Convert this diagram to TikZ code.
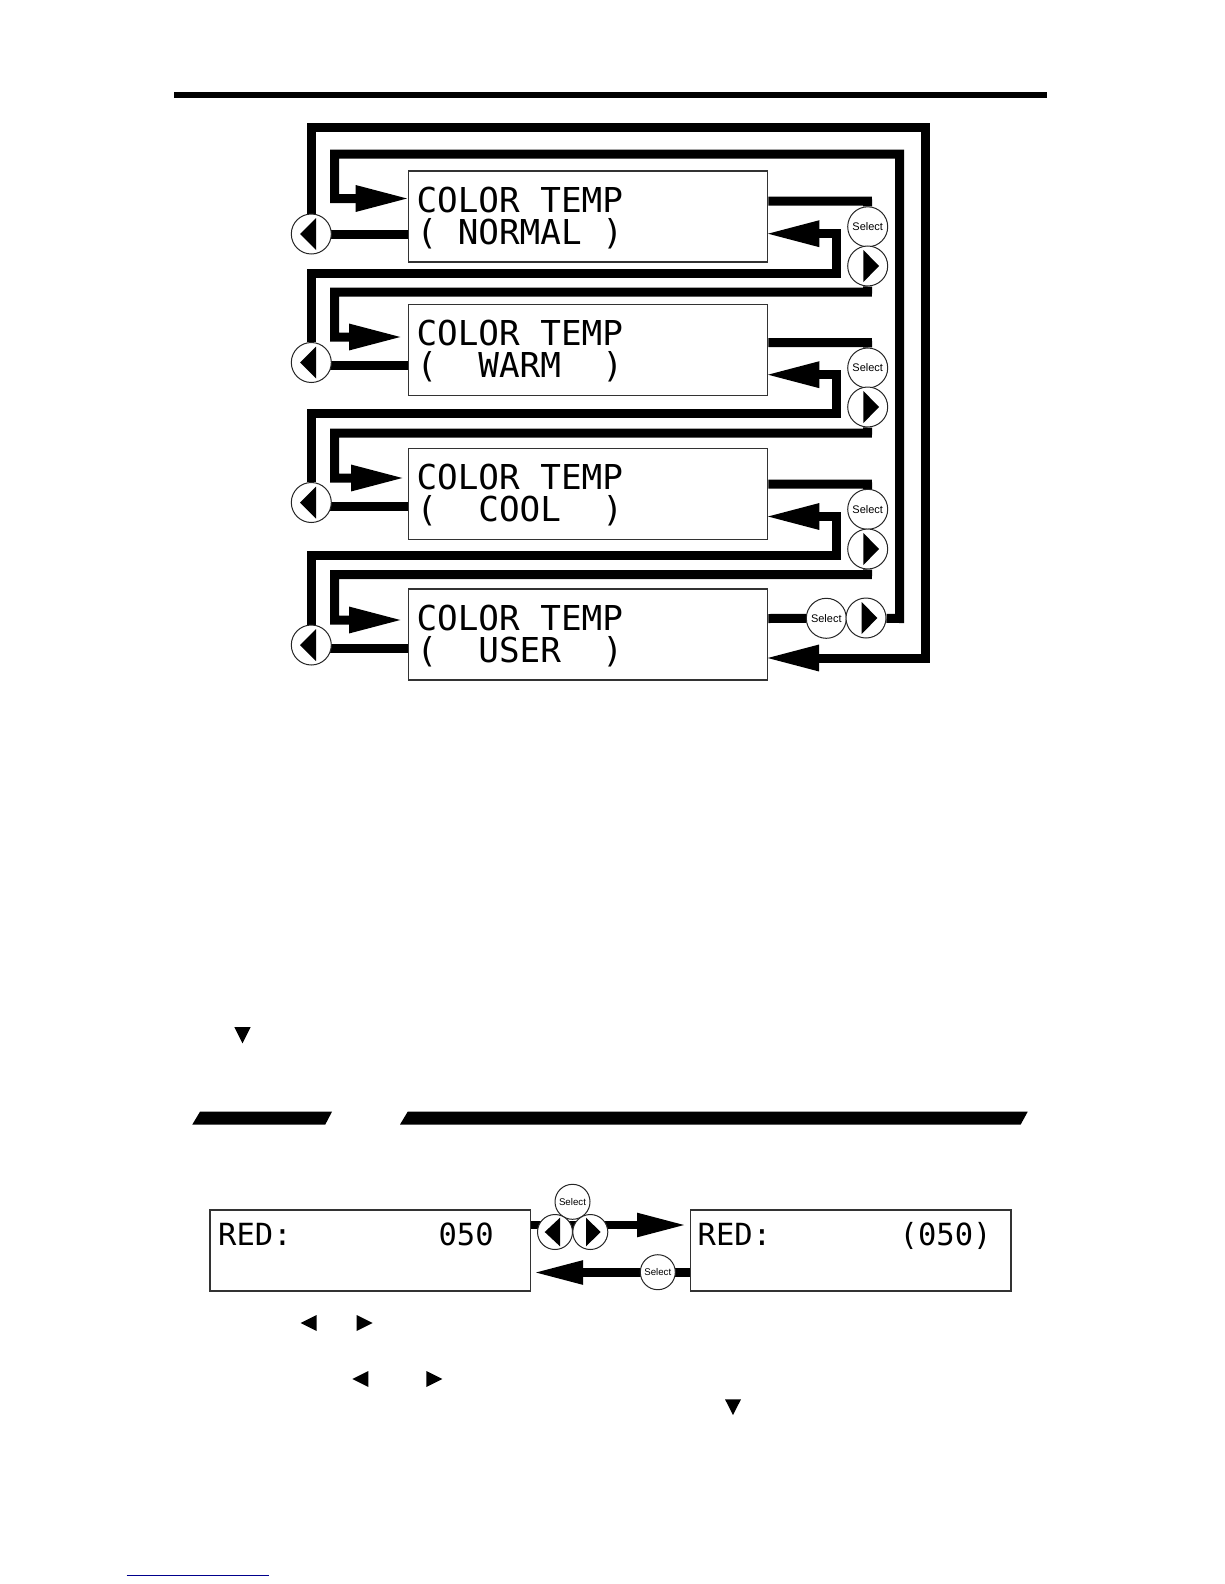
\documentclass[tikz,border=0pt]{standalone}
\usepackage{fontspec}
\setmainfont{Liberation Sans}
\newfontfamily\lcdfont{DejaVu Sans Mono}
\usetikzlibrary{arrows.meta}
\pgfdeclarelayer{bg}
\pgfsetlayers{bg,main}
\tikzset{
  lcdbox/.style={draw=black!80,line width=1.2pt,fill=white,inner sep=0pt,rectangle},
  lcdtext/.style={anchor=base west,inner sep=0pt,font=\lcdfont\fontsize{34.3}{34}\selectfont},
  lcdsmall/.style={anchor=base west,inner sep=0pt,font=\lcdfont\fontsize{30.5}{30.7}\selectfont},
  btn/.style={circle,draw=black!85,line width=1pt,fill=white,inner sep=0pt,minimum size=40pt,font=\fontsize{11}{11}\selectfont},
  btnsmall/.style={btn,minimum size=35pt,font=\fontsize{9.7}{10}\selectfont},
  conn/.style={line width=9pt,draw=black,line join=miter},
  connsmall/.style={line width=8.3pt,draw=black,line join=miter},
  bigtip/.style={-{Triangle[length=54.5pt,width=24pt]}},
  smalltip/.style={-{Triangle[length=50pt,width=22pt]}},
  solidmark/.style={fill=black,draw=none},
}
\newcommand{\lefttri}[1]{\fill[solidmark] ([shift={(-11.3pt,0pt)}]#1.center) -- ([shift={(4.7pt,-16pt)}]#1.center) -- ([shift={(4.7pt,16pt)}]#1.center) -- cycle;}
\newcommand{\righttri}[1]{\fill[solidmark] ([shift={(11.3pt,0pt)}]#1.center) -- ([shift={(-4.3pt,-16pt)}]#1.center) -- ([shift={(-4.3pt,16pt)}]#1.center) -- cycle;}
\begin{document}
\begin{tikzpicture}[x=1pt,y=-1pt]
\useasboundingbox (0,0) rectangle (1224,1584);
% displays
\node[lcdbox,minimum width=359.4pt,minimum height=91pt] (d1) at (588,216.5) {};
\node[lcdbox,minimum width=359.4pt,minimum height=91pt] (d2) at (588,349.7) {};
\node[lcdbox,minimum width=359.4pt,minimum height=91pt] (d3) at (588,493.7) {};
\node[lcdbox,minimum width=359.4pt,minimum height=91pt] (d4) at (588,634.5) {};
\node[lcdbox,minimum width=320.7pt,minimum height=81pt] (d5) at (370.3,1250.5) {};
\node[lcdbox,minimum width=320.7pt,minimum height=81pt] (d6) at (850.6,1250.5) {};
% LCD text
\node[lcdtext] (t1a) at (416.3,212.5) {COLOR~TEMP};
\node[lcdtext] (t1b) at (416.3,244) {(~NORMAL~)};
\node[lcdtext] (t2a) at (416.3,345.7) {COLOR~TEMP};
\node[lcdtext] (t2b) at (416.3,377.7) {(~~WARM~~)};
\node[lcdtext] (t3a) at (416.3,489.3) {COLOR~TEMP};
\node[lcdtext] (t3b) at (416.3,521.7) {(~~COOL~~)};
\node[lcdtext] (t4a) at (416.3,630) {COLOR~TEMP};
\node[lcdtext] (t4b) at (416.3,662.7) {(~~USER~~)};
\node[lcdsmall] (t5) at (218,1245.5) {RED:~~~~~~~~050};
\node[lcdsmall] (t6) at (697.5,1245.5) {RED:~~~~~~~(050)};
% buttons
\node[btn] (l1) at (311.3,234) {};
\node[btn] (l2) at (311.3,362.5) {};
\node[btn] (l3) at (311.3,502.5) {};
\node[btn] (l4) at (311.3,645) {};
\node[btn] (s1) at (867.7,226.8) {Select};
\node[btn] (r1) at (867.7,266) {};
\node[btn] (s2) at (867.7,368) {Select};
\node[btn] (r2) at (867.7,407) {};
\node[btn] (s3) at (867.7,509.3) {Select};
\node[btn] (r3) at (867.7,549) {};
\node[btn] (s4) at (826.3,618.3) {Select};
\node[btn] (r4) at (866,618) {};
\node[btnsmall] (s5) at (572.5,1201.8) {Select};
\node[btnsmall] (l5) at (555,1232) {};
\node[btnsmall] (r5) at (590.3,1232) {};
\node[btnsmall] (s6) at (657.8,1272.2) {Select};
\lefttri{l1}\lefttri{l2}\lefttri{l3}\lefttri{l4}
\righttri{r1}\righttri{r2}\righttri{r3}\righttri{r4}
\fill[solidmark] ([shift={(-10.3pt,0pt)}]l5.center) -- ([shift={(5pt,-14.3pt)}]l5.center) -- ([shift={(5pt,14.3pt)}]l5.center) -- cycle;
\fill[solidmark] ([shift={(10.4pt,0pt)}]r5.center) -- ([shift={(-4.3pt,-14.3pt)}]r5.center) -- ([shift={(-4.3pt,14.3pt)}]r5.center) -- cycle;
% free ends
\coordinate (a1) at (410.2,198.5);
\coordinate (a2) at (403.5,337);
\coordinate (a3) at (405.5,478);
\coordinate (a4) at (403.5,620);
\coordinate (b1) at (764.8,233.7);
\coordinate (b2) at (764.8,374.7);
\coordinate (b3) at (764.8,516.5);
\coordinate (b4) at (764.5,658);
\coordinate (a5) at (687,1225);
\coordinate (b5) at (533,1272.5);
\begin{pgfonlayer}{bg}
% outer loop
\draw[conn,bigtip] (l1) -- (311.3,127.5) -- (925,127.5) -- (925,658) -- (b4);
% inner loop
\draw[conn,bigtip] (r4) -- (899.5,618.5) -- (899.5,154) -- (334.5,154) -- (334.5,198.5) -- (a1);
% display to left button
\draw[conn] (d1.west |- 0,234) -- (311.3,234);
\draw[conn] (d2.west |- 0,365.2) -- (311.3,365.2);
\draw[conn] (d3.west |- 0,506) -- (311.3,506);
\draw[conn] (d4.west |- 0,648.5) -- (311.3,648.5);
% display to select
\draw[conn] (d1.east |- 0,201) -- (867.5,201) -- (s1);
\draw[conn] (d2.east |- 0,342.5) -- (867.5,342.5) -- (s2);
\draw[conn] (d3.east |- 0,484) -- (867.5,484) -- (s3);
\draw[conn] (d4.east |- 0,618.5) -- (s4);
% right button to next display
\draw[conn,bigtip] (r1) -- (867.5,292) -- (334.5,292) -- (334.5,337) -- (a2);
\draw[conn,bigtip] (r2) -- (867.5,433) -- (334.5,433) -- (334.5,478) -- (a3);
\draw[conn,bigtip] (r3) -- (867.5,574.5) -- (334.5,574.5) -- (334.5,620) -- (a4);
% left button to previous display
\draw[conn,bigtip] (l2) -- (311.3,273) -- (836.5,273) -- (836.5,233.7) -- (b1);
\draw[conn,bigtip] (l3) -- (311.3,413.8) -- (836.5,413.8) -- (836.5,374.7) -- (b2);
\draw[conn,bigtip] (l4) -- (311.3,555.8) -- (836.5,555.8) -- (836.5,516.5) -- (b3);
% lower pair
\draw[connsmall,smalltip] (d5.east |- a5) -- (a5);
\draw[connsmall,smalltip] (d6.west |- b5) -- (b5);
\end{pgfonlayer}
% page rules
\fill[black] (174,92) rectangle (1046.7,98);
\fill[black] (192.3,1124.5) -- (200,1111.7) -- (332,1111.7) -- (325.3,1124.5) -- cycle;
\fill[black] (400,1124.5) -- (407.7,1111.7) -- (1027.7,1111.7) -- (1020.7,1124.5) -- cycle;
% loose marks
\fill[solidmark] (234.3,1027) -- (250.7,1027) -- (242.5,1043.3) -- cycle;
\fill[solidmark] (725,1399.3) -- (741,1399.3) -- (733,1415) -- cycle;
\fill[solidmark] (300.7,1323) -- (316.7,1315) -- (316.7,1331) -- cycle;
\fill[solidmark] (372.7,1323) -- (356.7,1315) -- (356.7,1331) -- cycle;
\fill[solidmark] (352.3,1379) -- (368.3,1371) -- (368.3,1387) -- cycle;
\fill[solidmark] (442.3,1379) -- (426.3,1371) -- (426.3,1387) -- cycle;
\draw[line width=1pt,draw=blue!55!black] (126.7,1575) -- (269,1575);
\end{tikzpicture}
\end{document}
